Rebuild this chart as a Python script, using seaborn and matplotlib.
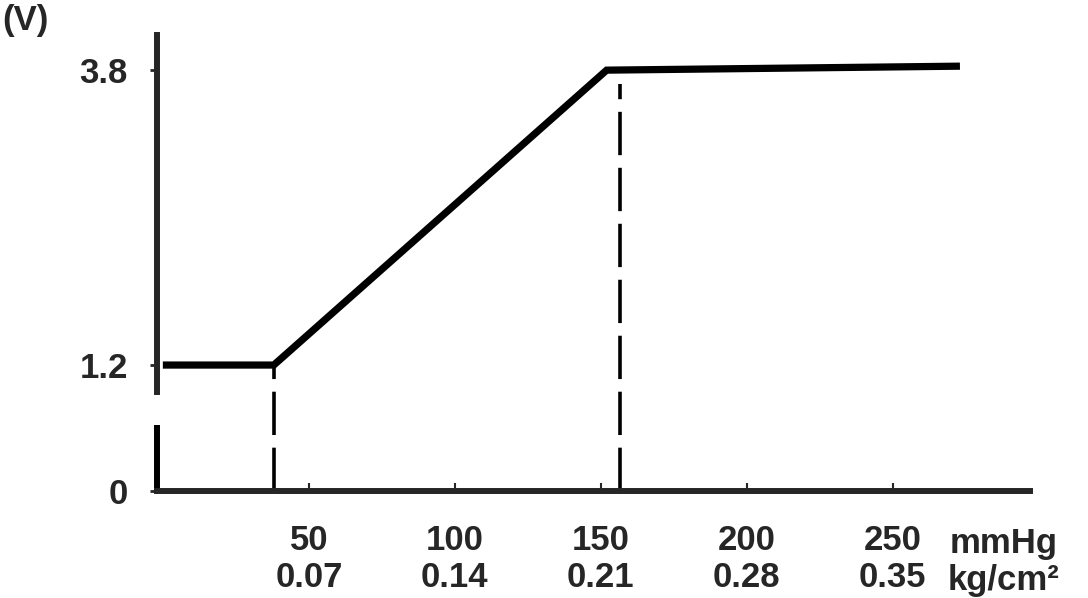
import numpy as np
import pandas as pd
import matplotlib
matplotlib.use("Agg")
import matplotlib.pyplot as plt
import seaborn as sns

# curve (pressure in mmHg, output in volts)
pressure = [0, 38, 152, 273]
voltage = [1.2, 1.2, 3.8, 3.835]
# dashed drop lines at the two knees
drop_x = [38, 156.5]
drop_top = [1.2, 3.68]
# tick labels
mmhg_ticks = [50, 100, 150, 200, 250]
kg_labels = ["0.07", "0.14", "0.21", "0.28", "0.35"]
v_ticks = [0, 1.2, 3.8]
v_labels = ["0", "1.2", "3.8"]

sns.set_style("ticks")
plt.rcParams["font.family"] = ["Liberation Sans", "DejaVu Sans"]
plt.rcParams["font.weight"] = "bold"

# the axis is broken below 1.2 V, so the lower part is a little compressed
K = 0.925
def fwd(y):
    y = np.asarray(y, dtype=float)
    return np.where(y < 1.2, y * K, 1.2 * K + (y - 1.2))

def inv(y):
    y = np.asarray(y, dtype=float)
    return np.where(y < 1.2 * K, y / K, y - 1.2 * K + 1.2)

fig = plt.figure(figsize=(10.88, 5.98), dpi=100)
ax = fig.add_axes([0.1443, 0.179, 0.8024, 0.7625])

df = pd.DataFrame({"pressure": pressure, "voltage": voltage})
sns.lineplot(data=df, x="pressure", y="voltage", color="black", linewidth=5.2,
             ax=ax, solid_joinstyle="miter", solid_capstyle="butt")
ax.vlines(drop_x, 0, drop_top, colors="black", linewidth=2.6,
          linestyles=(0, (12, 3.5)))

ax.set_yscale("function", functions=(fwd, inv))
ax.set_xlim(-2, 297)
ax.set_ylim(0, 4.11)

for side in ("top", "right"):
    ax.spines[side].set_visible(False)
for side in ("left", "bottom"):
    ax.spines[side].set_linewidth(4.3)
ax.spines["left"].set_bounds(0.94, 4.11)
ax.vlines(-2, 0, 0.63, colors="black", linewidth=4.3, clip_on=False)

ax.set_xticks(mmhg_ticks)
ax.set_xticklabels([f"{m}\n{k}" for m, k in zip(mmhg_ticks, kg_labels)],
                   linespacing=1.15)
ax.tick_params(axis="x", direction="in", length=6, width=1.5, pad=24,
               labelsize=25)
ax.set_yticks(v_ticks)
ax.set_yticklabels(v_labels)
ax.tick_params(axis="y", direction="out", length=5, width=2, pad=16,
               labelsize=25)
ax.minorticks_off()
ax.set_xlabel("")
ax.set_ylabel("")

ax.text(288, -0.08, "mmHg\nkg/cm²", transform=ax.get_xaxis_transform(),
        ha="center", va="top", fontsize=25, linespacing=1.15)
fig.text(0.002, 0.966, "(V)", ha="left", va="center", fontsize=25)

fig.savefig("out.png", dpi=100)
plt.close(fig)
